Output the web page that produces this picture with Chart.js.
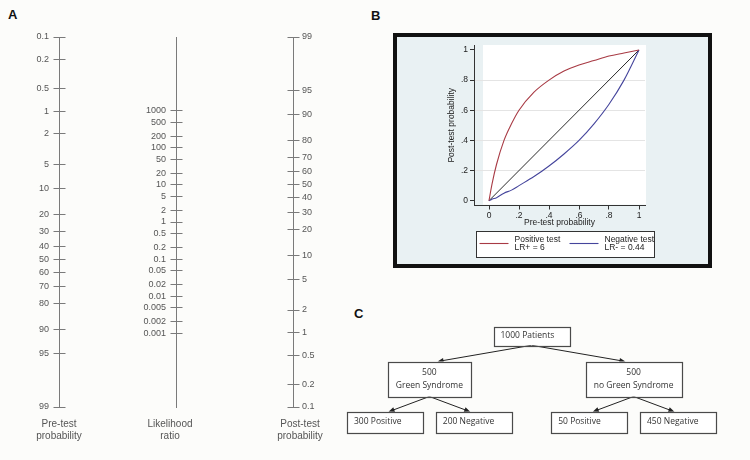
<!DOCTYPE html>
<html>
<head>
<meta charset="utf-8">
<title>Fagan nomogram, post-test probability curves and patient tree</title>
<script src="https://cdn.jsdelivr.net/npm/chart.js@4.4.1/dist/chart.umd.min.js"></script>
<style>
  html, body { margin: 0; padding: 0; background: #fcfcfa; }
  #page { position: relative; width: 750px; height: 460px; overflow: hidden; font-family: "Liberation Sans", Arial, sans-serif; }
  .letter { position: absolute; font-weight: bold; font-size: 13px; line-height: 13px; color: #111; }
  canvas { position: absolute; }
  #boxB { position: absolute; left: 393px; top: 33px; width: 311px; height: 227px; border: 4px solid #111; background: #e9f1f3; }
  #boxB canvas { left: 0; top: 0; }
</style>
</head>
<body>
<div id="page">
  <div class="letter" style="left:8px; top:8px;">A</div>
  <div class="letter" style="left:371px; top:9px;">B</div>
  <div class="letter" style="left:354px; top:307px;">C</div>
  <canvas id="preAxis" width="118" height="460" style="left:0; top:0;"></canvas>
  <canvas id="lrAxis" width="120" height="460" style="left:110px; top:0;"></canvas>
  <canvas id="postAxis" width="120" height="460" style="left:240px; top:0;"></canvas>
  <div id="boxB"><canvas id="curves" width="311" height="227"></canvas></div>
  <canvas id="tree" width="410" height="160" style="left:340px; top:300px;"></canvas>
</div>

<script>
// ---- panel A: nomogram axes ----
const preTestTicks = [0.1, 0.2, 0.5, 1, 2, 5, 10, 20, 30, 40, 50, 60, 70, 80, 90, 95, 99];
const postTestTicks = [99, 95, 90, 80, 70, 60, 50, 40, 30, 20, 10, 5, 2, 1, 0.5, 0.2, 0.1];
const lrTicks = [1000, 500, 200, 100, 50, 20, 10, 5, 2, 1, 0.5, 0.2, 0.1, 0.05, 0.02, 0.01, 0.005, 0.002, 0.001];
const probLow = 0.1;
const probHigh = 99;

// ---- panel B: post-test probability vs pre-test probability ----
const pretest = [0, 0.02, 0.05, 0.1, 0.15, 0.2, 0.3, 0.4, 0.5, 0.6, 0.7, 0.8, 0.9, 1];
const postPositive = [0, 0.11, 0.24, 0.40, 0.51, 0.60, 0.72, 0.80, 0.86, 0.90, 0.93, 0.96, 0.98, 1];
const postNegative = [0, 0.01, 0.02, 0.05, 0.07, 0.10, 0.16, 0.23, 0.31, 0.40, 0.51, 0.64, 0.80, 1];
const noTestX = [0, 1];
const noTestY = [0, 1];
const probTickValues = [0, 0.2, 0.4, 0.6, 0.8, 1];
const probTickLabels = ['0', '.2', '.4', '.6', '.8', '1'];
const seriesNames = [['Positive test', 'LR+ = 6'], ['Negative test', 'LR- = 0.44']];

// ---- panel C: patient tree ----
const treeLabels = [['1000 Patients'], ['500', 'Green Syndrome'], ['500', 'no Green Syndrome'],
  ['300 Positive'], ['200 Negative'], ['50 Positive'], ['450 Negative']];
const treeParent = [-1, 0, 0, 1, 1, 2, 2];

Chart.defaults.font.family = '"Liberation Sans", Arial, sans-serif';
Chart.defaults.animation = false;
Chart.defaults.events = [];
Chart.defaults.plugins.tooltip.enabled = false;

const logOdds = p => Math.log(p / (100 - p));
const oddsSpan = logOdds(probHigh) - logOdds(probLow);

// tick marks that cross the axis line
const crossTicks = {
  id: 'crossTicks',
  afterDraw(chart) {
    const s = chart.scales.y;
    const ctx = chart.ctx;
    const x = Math.round((s.position === 'right' ? s.left : s.right) - 0.5) + 0.5;
    ctx.save();
    ctx.strokeStyle = '#7a7a7a';
    ctx.lineWidth = 1;
    s.ticks.forEach(t => {
      const y = Math.round(s.getPixelForValue(t.value) - 0.5) + 0.5;
      ctx.beginPath();
      ctx.moveTo(x - 6, y);
      ctx.lineTo(x + 6, y);
      ctx.stroke();
    });
    ctx.restore();
  }
};

function nomogramAxis(id, cfg) {
  return new Chart(document.getElementById(id), {
    type: 'scatter',
    data: { datasets: [] },
    options: {
      responsive: false,
      layout: { padding: { top: 37 } },
      plugins: {
        legend: { display: false },
        title: {
          display: true, position: 'bottom', text: cfg.title, color: '#555',
          font: { size: 10, weight: 'normal', lineHeight: 1.2 },
          padding: { top: 11, bottom: 18 }
        }
      },
      scales: {
        x: { display: false, min: 0, max: 1 },
        y: {
          type: 'linear', position: cfg.side, reverse: cfg.reverse,
          min: cfg.min, max: cfg.max,
          afterBuildTicks: s => { s.ticks = cfg.ticks.map(v => ({ value: cfg.toAxis(v) })); },
          afterFit: s => { s.width = cfg.width; },
          ticks: {
            autoSkip: false, padding: cfg.pad, color: '#555', font: { size: 9 },
            callback: (v, i) => String(cfg.ticks[i])
          },
          grid: { drawOnChartArea: false, drawTicks: false },
          border: { display: true, color: '#7a7a7a' }
        }
      }
    },
    plugins: [crossTicks]
  });
}

nomogramAxis('preAxis', {
  title: ['Pre-test', 'probability'], side: 'left', reverse: true, width: 59, pad: 10,
  min: logOdds(probLow), max: logOdds(probHigh), ticks: preTestTicks, toAxis: logOdds
});
nomogramAxis('lrAxis', {
  title: ['Likelihood', 'ratio'], side: 'left', reverse: false, width: 66, pad: 10,
  min: -oddsSpan, max: oddsSpan, ticks: lrTicks, toAxis: v => Math.log(v)
});
nomogramAxis('postAxis', {
  title: ['Post-test', 'probability'], side: 'right', reverse: false, width: 67, pad: 9,
  min: logOdds(probLow), max: logOdds(probHigh), ticks: postTestTicks, toAxis: logOdds
});

// white plot region behind the curves, Stata style
const plotRegion = {
  id: 'plotRegion',
  beforeDraw(chart) {
    const { ctx, scales: { x, y } } = chart;
    ctx.save();
    ctx.fillStyle = '#ffffff';
    const l = x.getPixelForValue(0) - 6, r = x.getPixelForValue(1) + 7;
    const t = y.getPixelForValue(1) - 5, b = y.getPixelForValue(0) + 4;
    ctx.fillRect(l, t, r - l, b - t);
    ctx.restore();
  }
};

// boxed two-line legend under the x axis
const boxedLegend = {
  id: 'boxedLegend',
  afterDraw(chart) {
    const { ctx, chartArea, scales: { x } } = chart;
    const left = Math.round(chartArea.left + 2) + 0.5;
    const top = Math.round(x.bottom + 3) + 0.5;
    const w = 178, h = 26;
    ctx.save();
    ctx.fillStyle = '#ffffff';
    ctx.fillRect(left, top, w, h);
    ctx.strokeStyle = '#333';
    ctx.lineWidth = 1;
    ctx.strokeRect(left, top, w, h);
    ctx.font = '8.5px "Liberation Sans", Arial, sans-serif';
    ctx.textBaseline = 'middle';
    ctx.textAlign = 'left';
    [0, 1].forEach(k => {
      const ds = chart.data.datasets[k];
      const x0 = left + 3 + k * 90;
      const mid = top + h / 2 - 1;
      ctx.strokeStyle = ds.borderColor;
      ctx.lineWidth = ds.borderWidth;
      ctx.beginPath();
      ctx.moveTo(x0, mid);
      ctx.lineTo(x0 + 29, mid);
      ctx.stroke();
      ctx.fillStyle = '#222';
      ds.label.forEach((line, j) => ctx.fillText(line, x0 + 35, mid - 3.5 + j * 8));
    });
    ctx.restore();
  }
};

const toPoints = (xs, ys) => xs.map((v, i) => ({ x: v, y: ys[i] }));

new Chart(document.getElementById('curves'), {
  type: 'line',
  data: {
    datasets: [
      { label: seriesNames[0], data: toPoints(pretest, postPositive), borderColor: '#a83a44', borderWidth: 1.1,
        pointRadius: 0, cubicInterpolationMode: 'monotone' },
      { label: seriesNames[1], data: toPoints(pretest, postNegative), borderColor: '#45459c', borderWidth: 1.1,
        pointRadius: 0, cubicInterpolationMode: 'monotone' },
      { label: ['No change'], data: toPoints(noTestX, noTestY), borderColor: '#2a2a2a', borderWidth: 1,
        pointRadius: 0 }
    ]
  },
  options: {
    responsive: false,
    layout: { padding: { top: 8, right: 63, left: 0, bottom: 36.5 } },
    plugins: { legend: { display: false } },
    scales: {
      x: {
        type: 'linear', min: -0.1, max: 1.04,
        afterBuildTicks: s => { s.ticks = probTickValues.map(v => ({ value: v })); },
        afterFit: s => { s.height = 22; },
        ticks: { autoSkip: false, padding: 1, color: '#222', font: { size: 8.5 },
          callback: (v, i) => probTickLabels[i] },
        grid: { drawOnChartArea: false, tickLength: 4, tickColor: '#333' },
        border: { color: '#333' },
        title: { display: true, text: 'Pre-test probability', color: '#222', font: { size: 8.5 },
          padding: { top: 0, bottom: 0 } }
      },
      y: {
        type: 'linear', min: -0.032, max: 1.033,
        afterBuildTicks: s => { s.ticks = probTickValues.map(v => ({ value: v })); },
        afterFit: s => { s.width = 77; },
        ticks: { autoSkip: false, padding: 2, color: '#222', font: { size: 8.5 },
          callback: (v, i) => probTickLabels[i] },
        grid: {
          color: c => (c.tick && c.tick.value > 0 && c.tick.value < 1) ? '#e4e4e4' : 'rgba(0,0,0,0)',
          tickLength: 4, tickColor: '#333'
        },
        border: { color: '#333' },
        title: { display: true, text: 'Post-test probability', color: '#222', font: { size: 8.5 },
          padding: { top: 50, bottom: 0 } }
      }
    }
  },
  plugins: [plotRegion, boxedLegend]
});

// ---- panel C: tree layout from the parent list ----
const level = treeParent.map(() => 0);
treeParent.forEach((p, i) => { if (p >= 0) level[i] = level[p] + 1; });
const children = treeParent.map((_, i) => treeParent.map((p, j) => p === i ? j : -1).filter(j => j >= 0));
const slot = treeParent.map(() => 0);
let nextSlot = 0, lastParent = null;
treeParent.forEach((p, i) => {
  if (children[i].length) return;
  if (lastParent !== null && p !== lastParent) nextSlot += 0.3;
  slot[i] = nextSlot;
  nextSlot += 1;
  lastParent = p;
});
for (let i = treeParent.length - 1; i >= 0; i--) {
  if (children[i].length) slot[i] = children[i].reduce((a, j) => a + slot[j], 0) / children[i].length;
}

const treeBoxes = {
  id: 'treeBoxes',
  afterDatasetsDraw(chart) {
    const ctx = chart.ctx;
    const pts = chart.getDatasetMeta(0).data;
    const heights = [18.5, 35, 20.5];
    ctx.save();
    ctx.font = '8.5px "Open Sans", "Liberation Sans", sans-serif';
    const boxes = pts.map((pt, i) => {
      const lines = treeLabels[i];
      const tw = Math.max(...lines.map(l => ctx.measureText(l).width));
      const w = Math.max(76, tw + 16);
      const h = heights[level[i]];
      return { x: pt.x - w / 2, y: pt.y - h / 2, w, h, cx: pt.x, cy: pt.y, lines };
    });
    // arrows
    ctx.strokeStyle = '#222';
    ctx.fillStyle = '#222';
    ctx.lineWidth = 1;
    treeParent.forEach((p, i) => {
      if (p < 0) return;
      const a = boxes[p], b = boxes[i];
      const x1 = a.cx, y1 = a.y + a.h;
      const x2 = b.cx + 0.08 * (a.cx - b.cx), y2 = b.y;
      const ang = Math.atan2(y2 - y1, x2 - x1);
      ctx.beginPath();
      ctx.moveTo(x1, y1);
      ctx.lineTo(x2 - 5 * Math.cos(ang), y2 - 5 * Math.sin(ang));
      ctx.stroke();
      ctx.beginPath();
      ctx.moveTo(x2, y2);
      ctx.lineTo(x2 - 6 * Math.cos(ang) + 2.6 * Math.sin(ang), y2 - 6 * Math.sin(ang) - 2.6 * Math.cos(ang));
      ctx.lineTo(x2 - 6 * Math.cos(ang) - 2.6 * Math.sin(ang), y2 - 6 * Math.sin(ang) + 2.6 * Math.cos(ang));
      ctx.closePath();
      ctx.fill();
    });
    // boxes and text
    boxes.forEach(b => {
      ctx.fillStyle = '#ffffff';
      ctx.fillRect(b.x, b.y, b.w, b.h);
      ctx.strokeStyle = '#4a4a4a';
      ctx.lineWidth = 1.2;
      ctx.strokeRect(Math.round(b.x) + 0.5, Math.round(b.y) + 0.5, Math.round(b.w), Math.round(b.h));
      ctx.fillStyle = '#333';
      ctx.textBaseline = 'middle';
      if (b.lines.length === 1) {
        ctx.textAlign = 'left';
        ctx.fillText(b.lines[0], b.x + 7, b.cy);
      } else {
        ctx.textAlign = 'center';
        b.lines.forEach((l, k) => ctx.fillText(l, b.cx, b.cy + (k - (b.lines.length - 1) / 2) * 13.3));
      }
    });
    ctx.restore();
  }
};

new Chart(document.getElementById('tree'), {
  type: 'scatter',
  data: { datasets: [{ data: slot.map((s, i) => ({ x: s, y: level[i] })), pointRadius: 0 }] },
  options: {
    responsive: false,
    layout: { padding: { left: 45, right: 72, top: 36, bottom: 38 } },
    plugins: { legend: { display: false } },
    scales: {
      x: { display: false, min: 0, max: Math.max(...slot) },
      y: { display: false, reverse: true, min: 0, max: Math.max(...level) }
    }
  },
  plugins: [treeBoxes]
});
</script>
</body>
</html>
